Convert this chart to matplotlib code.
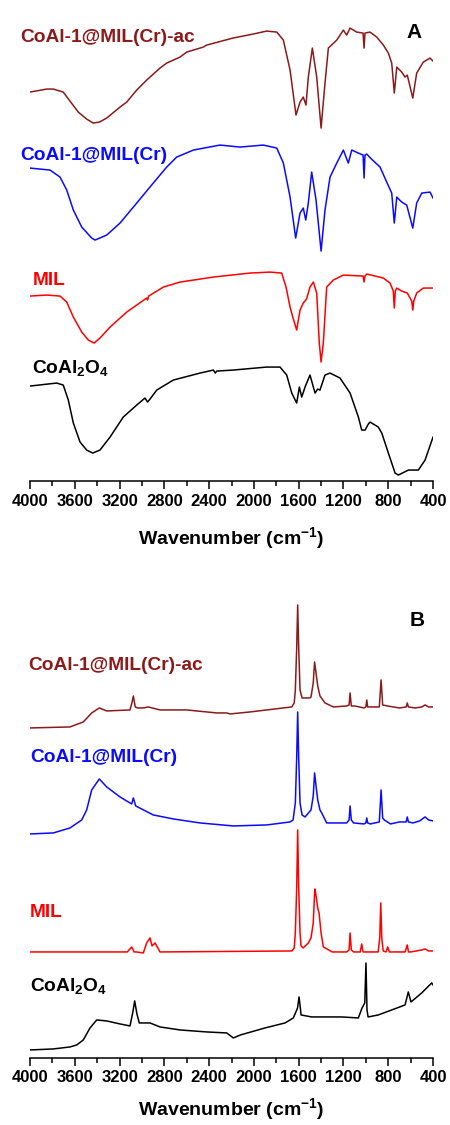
import numpy as np
import matplotlib
matplotlib.use('Agg')
import matplotlib.pyplot as plt

plt.rcParams['font.family'] = ['Liberation Sans', 'DejaVu Sans']
plt.rcParams['font.weight'] = 'bold'
plt.rcParams['mathtext.fontset'] = 'custom'
plt.rcParams['mathtext.rm'] = 'Liberation Sans:bold'
plt.rcParams['mathtext.bf'] = 'Liberation Sans:bold'
plt.rcParams['mathtext.default'] = 'bf'

# %% data (A: FTIR, B: Raman) - stacked intensities, a.u.
names = ['CoAl-1@MIL(Cr)-ac', 'CoAl-1@MIL(Cr)', 'MIL', 'CoAl$_2$O$_4$']
colors = ['#8b1a1a', '#0a0aff', '#ff0000', '#000000']
xticks = [4000, 3600, 3200, 2800, 2400, 2000, 1600, 1200, 800, 400]

A_ac_wn = [4000, 3851, 3792, 3703, 3643, 3569, 3494, 3435, 3380, 3315, 3196, 3136, 3047, 2958, 2839, 2779, 2660,
           2600, 2452, 2422, 2187, 2008, 1886, 1796, 1737,
           1677, 1624, 1588, 1559, 1535, 1514, 1478, 1439, 1400, 1365, 1335, 1260, 1201, 1171, 1141, 1082, 1025,
           1016, 1008, 963, 903, 844, 799, 769, 746, 724, 680, 650, 630, 581, 546, 487, 427, 400]
A_ac_y = [389, 392, 392, 389, 380, 369, 362, 358, 359, 363, 374, 379, 391, 401, 413, 418, 424,
          429, 434, 436, 443, 447, 450, 449, 441,
          411, 366, 379, 384, 376, 404, 433, 404, 353, 398, 433, 441, 451, 446, 453, 449, 448,
          433, 448, 449, 444, 436, 428, 418, 388, 414, 409, 404, 406, 383, 408, 419, 423, 420]

A_cr_wn = [4000, 3821, 3732, 3672, 3613, 3538, 3449, 3419, 3315, 3196, 3047, 2899, 2779, 2690, 2541, 2303, 2124,
           1916, 1796,
           1737, 1677, 1627, 1588, 1559, 1537, 1514, 1484, 1445, 1400, 1365, 1320, 1260, 1201, 1157, 1126, 1067,
           1025, 1016, 1008, 992, 950, 873, 814, 769, 746, 724, 680, 635, 581, 546, 501, 427, 400]
A_cr_y = [313, 311, 304, 291, 271, 254, 243, 241, 246, 258, 278, 298, 314, 324, 331, 336, 334,
          336, 333,
          318, 284, 243, 268, 273, 261, 278, 309, 281, 230, 271, 304, 318, 331, 318, 331, 328,
          326, 303, 326, 327, 322, 314, 299, 288, 258, 284, 279, 276, 253, 278, 288, 289, 283]

A_mil_wn = [4000, 3851, 3732, 3672, 3613, 3538, 3479, 3428, 3375, 3285, 3136, 2958, 2950, 2940, 2809, 2660, 2362,
            2035, 1856, 1752,
            1713, 1677, 1653, 1618, 1588, 1559, 1530, 1499, 1469, 1439, 1416, 1400, 1380, 1350, 1291, 1201, 1025,
            1016, 1008, 992, 844, 784, 755, 746, 737, 724, 680, 630, 590, 581, 572, 546, 487, 400]
A_mil_y = [185, 186, 185, 179, 164, 149, 141, 138, 143, 154, 169, 183, 181, 185, 194, 199, 204,
           208, 209, 208,
           194, 174, 164, 151, 171, 178, 182, 194, 199, 188, 138, 119, 138, 194, 201, 206, 205,
           199, 205, 207, 203, 198, 190, 173, 190, 193, 190, 188, 180, 171, 180, 188, 193, 193]

A_co_wn = [4000, 3762, 3703, 3658, 3613, 3553, 3494, 3440, 3375, 3285, 3167, 3047, 2973, 2950, 2928, 2868, 2720,
           2481, 2362, 2345, 2332, 2184, 1886, 1767, 1707, 1662, 1618, 1594, 1573, 1540, 1499, 1454, 1430, 1410,
           1365, 1320, 1231, 1141, 1067, 1037, 1007, 978, 963, 889, 858, 799, 739, 710, 620, 531, 471, 400]
A_co_y = [95, 98, 96, 81, 58, 39, 31, 28, 31, 44, 64, 76, 83, 79, 82, 91, 101,
          108, 111, 108, 110, 111, 114, 114, 106, 88, 78, 94, 84, 95, 106, 88, 92, 91,
          106, 108, 103, 88, 64, 51, 51, 57, 59, 54, 48, 28, 8, 6, 11, 11, 21, 44]

B_ac_wn = [4000, 3643, 3524, 3449, 3381, 3315, 3107, 3090, 3077, 3060, 3040, 2988, 2943, 2839, 2600, 2332, 2243,
           2213, 2035, 1737, 1662, 1640, 1630, 1618, 1609, 1600, 1588, 1570, 1499, 1490, 1470, 1458, 1445, 1430,
           1410, 1365, 1290, 1171, 1150, 1141, 1130, 1100, 1016, 1000, 992, 984, 880, 864, 850, 808, 700, 640,
           630, 620, 560, 500, 471, 440, 400]
B_ac_y = [330, 331, 336, 345, 350, 347, 348, 355, 362, 351, 350, 350, 351, 348, 348, 345, 345,
          344, 346, 350, 351, 355, 368, 410, 453, 410, 368, 360, 360, 361, 375, 396, 385, 372,
          362, 355, 351, 352, 353, 365, 352, 352, 350, 351, 358, 351, 351, 378, 353, 352, 350, 351,
          355, 351, 350, 351, 353, 351, 351]

B_cr_wn = [4000, 3792, 3643, 3538, 3494, 3449, 3381, 3315, 3196, 3092, 3077, 3056, 2899, 2720, 2481, 2184, 1886,
           1677, 1650, 1630, 1618, 1609, 1600, 1588, 1570, 1543, 1490, 1470, 1458, 1445, 1430, 1410, 1394, 1350,
           1171, 1150, 1141, 1130, 1110, 1016, 1000, 992, 984, 960, 880, 864, 850, 835, 780, 700, 640, 630,
           620, 580, 520, 471, 440, 400]
B_cr_y = [224, 225, 230, 238, 248, 268, 279, 271, 261, 254, 260, 252, 243, 239, 235, 232, 233,
          236, 238, 255, 300, 346, 300, 255, 243, 241, 248, 262, 285, 272, 258, 248, 245, 235,
          235, 238, 252, 238, 235, 234, 235, 240, 235, 234, 236, 268, 240, 238, 234, 236, 236, 241,
          236, 235, 237, 241, 238, 237]

B_mil_wn = [4000, 3131, 3092, 3070, 3050, 2988, 2958, 2928, 2910, 2883, 2839, 1660, 1640, 1630, 1618, 1609, 1600,
            1588, 1579, 1560, 1514, 1490, 1470, 1458, 1454, 1445, 1430, 1418, 1400, 1380, 1300, 1170, 1150, 1141,
            1130, 1110, 1050, 1037, 1025, 890, 876, 867, 858, 845, 820, 805, 790, 650, 630, 620, 600, 500, 471,
            440, 400]
B_mil_y = [106, 106, 111, 106, 106, 105, 115, 120, 112, 115, 106, 107, 110, 125, 170, 228, 170,
           125, 112, 110, 115, 120, 135, 165, 169, 162, 150, 145, 125, 111, 106, 106, 108, 125,
           108, 106, 106, 114, 106, 106, 120, 155, 120, 107, 106, 111, 106, 106, 113, 106, 106, 108, 109,
           107, 107]

B_co_wn = [4000, 3792, 3643, 3583, 3524, 3464, 3404, 3315, 3196, 3107, 3083, 3065, 3045, 3024, 2928, 2839, 2660,
           2422, 2243, 2184, 2120, 1901, 1722, 1648, 1610, 1597, 1585, 1579, 1484, 1365, 1216, 1067, 1034, 1010,
           999, 990, 980, 889, 769, 650, 621, 597, 501, 412, 400]
B_co_y = [8, 9, 11, 13, 18, 30, 38, 37, 34, 32, 45, 57, 44, 35, 35, 31, 28,
          26, 25, 20, 23, 30, 35, 40, 50, 61, 50, 43, 41, 41, 41, 40, 50, 55,
          95, 48, 41, 43, 48, 53, 66, 56, 65, 75, 73]

curves_A = [(A_ac_wn, A_ac_y), (A_cr_wn, A_cr_y), (A_mil_wn, A_mil_y), (A_co_wn, A_co_y)]
curves_B = [(B_ac_wn, B_ac_y), (B_cr_wn, B_cr_y), (B_mil_wn, B_mil_y), (B_co_wn, B_co_y)]

# %% figure
fig = plt.figure(figsize=(4.5, 11.25), dpi=100)
axA = fig.add_axes([0.0667, 0.5724, 0.8956, 0.4142])
axB = fig.add_axes([0.0667, 0.0596, 0.8956, 0.4160])

# label positions (axes fraction): x, baseline y
pos_A = [(-0.025, 0.943), (-0.023, 0.689), (0.006, 0.421), (0.006, 0.231)]
pos_B = [(-0.004, 0.829), (0.0, 0.633), (0.0, 0.301), (0.0, 0.142)]

for ax, curves, pos, tag, tagpos, ytop, lpad in [(axA, curves_A, pos_A, 'A', (0.952, 0.950), 466, 12),
                                                 (axB, curves_B, pos_B, 'B', (0.960, 0.922), 468, 8)]:
    for (wn, y), c, name, (tx, ty) in zip(curves, colors, names, pos):
        ax.plot(wn, y, color=c, lw=1.1)
        ax.text(tx, ty, name, color=c, fontsize=13.8, fontweight='bold',
                transform=ax.transAxes, ha='left', va='baseline')
    ax.text(tagpos[0], tagpos[1], tag, fontsize=15, fontweight='bold',
            transform=ax.transAxes, ha='center', va='baseline')
    ax.set_xlim(4000, 400)
    ax.set_ylim(0, ytop)
    ax.set_xticks(xticks)
    ax.set_xticks(np.arange(400, 4001, 200), minor=True)
    ax.tick_params(axis='x', which='major', direction='out', length=6, width=1.1, labelsize=12, pad=3)
    ax.tick_params(axis='x', which='minor', direction='out', length=3.5, width=1.1)
    for lab in ax.get_xticklabels():
        lab.set_fontweight('bold')
    ax.set_yticks([])
    for s in ['top', 'left', 'right']:
        ax.spines[s].set_visible(False)
    ax.spines['bottom'].set_linewidth(1.1)
    ax.set_xlabel('Wavenumber (cm$^{-1}$)', fontsize=14, fontweight='bold', labelpad=lpad)
    ax.patch.set_alpha(0)

fig.savefig('out.png', dpi=100, facecolor='white')
